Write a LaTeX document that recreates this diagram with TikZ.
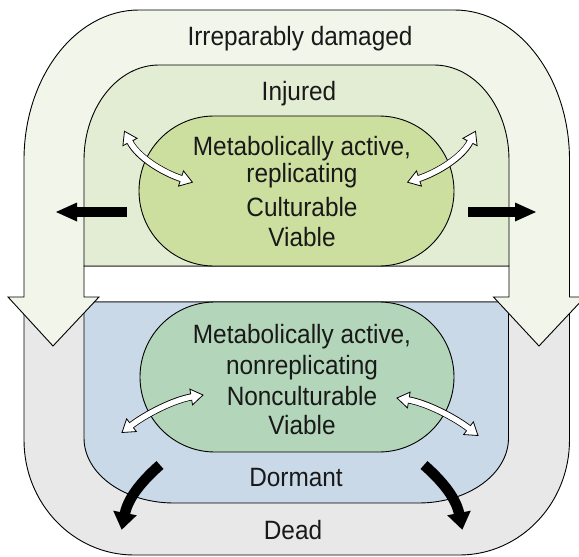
\documentclass[tikz,border=0pt]{standalone}
\usepackage{fontspec}
\setmainfont{Liberation Sans}[FakeStretch=0.92]
\usetikzlibrary{calc}
\definecolor{outerc}{HTML}{F1F5EA}
\definecolor{injc}{HTML}{E2EDD3}
\definecolor{pillup}{HTML}{CDDF9F}
\definecolor{dormc}{HTML}{C9D9E8}
\definecolor{pilllow}{HTML}{B3D5B9}
\definecolor{deadc}{HTML}{E8E8E8}
\newcommand{\whitearrow}[6]{%
  \draw[line width=7pt, black] (#2) .. controls (#3) and (#4) .. (#5);
  \filldraw[fill=white, draw=black, line width=0.8pt] (#1) -- ($(#2)!8pt!90:(#1)$) -- ($(#2)!8pt!-90:(#1)$) -- cycle;
  \filldraw[fill=white, draw=black, line width=0.8pt] (#6) -- ($(#5)!8pt!90:(#6)$) -- ($(#5)!8pt!-90:(#6)$) -- cycle;
  \draw[line width=5.4pt, white, shorten <=-1.2pt, shorten >=-1.2pt] (#2) .. controls (#3) and (#4) .. (#5);
}
\newcommand{\blackcurve}[5]{%
  \draw[line width=10.5pt, black, shorten >=-1pt] (#1) .. controls (#2) and (#3) .. (#4);
  \fill[black] (#5) -- ($(#4)!12pt!90:(#5)$) -- ($(#4)!12pt!-90:(#5)$) -- cycle;
}
\begin{document}
\begin{tikzpicture}[x=1pt,y=-1pt,
  region/.style={draw=black, line width=0.9pt},
  lbl/.style={font=\fontsize{26.5}{30}\selectfont, inner sep=0pt, anchor=base, text=black!90}]
\useasboundingbox (0,0) rectangle (579,557);
\fill[white] (0,0) rectangle (579,557);
\clip (0,0) rectangle (579,557);
% Dead
\draw[region, fill=deadc] (24,302) -- (24,440) .. controls (24,503.5) and (73.25,555) .. (134,555) -- (459.5,555) .. controls (520.25,555) and (569.5,503.5) .. (569.5,440) -- (569.5,302) -- cycle;
% Dormant
\draw[region, fill=dormc] (84,302) -- (84,438) .. controls (84,473.9) and (124.3,503) .. (174,503) -- (418.5,503) .. controls (468.2,503) and (508.5,473.9) .. (508.5,438) -- (508.5,302) -- cycle;
% lower pill
\draw[region, fill=pilllow] (215,302) -- (379,302) .. controls (420.4,302) and (454,335.6) .. (454,377) .. controls (454,418.4) and (420.4,452) .. (379,452) -- (215,452) .. controls (173.6,452) and (140,418.4) .. (140,377) .. controls (140,335.6) and (173.6,302) .. (215,302) -- cycle;
% Irreparably damaged arch with arrow heads
\draw[region, fill=outerc] (24,297) -- (24,160) .. controls (24,77.2) and (75.5,10) .. (139,10) -- (454.5,10) .. controls (518,10) and (569.5,77.2) .. (569.5,160) -- (569.5,297) -- (585,297) -- (539,346) -- (493.5,297) -- (509,297) -- (509,266) -- (84,266) -- (84,297) -- (99,297) -- (53,346) -- (8,297) -- cycle;
% Injured
\draw[region, fill=injc] (84,266) -- (84,160) .. controls (84,107.5) and (117.6,65) .. (159,65) -- (434,65) .. controls (475.4,65) and (509,107.5) .. (509,160) -- (509,266) -- cycle;
% upper pill
\draw[region, fill=pillup] (214,116) -- (379,116) .. controls (420.4,116) and (454,149.6) .. (454,191) .. controls (454,232.4) and (420.4,266) .. (379,266) -- (214,266) .. controls (172.6,266) and (139,232.4) .. (139,191) .. controls (139,149.6) and (172.6,116) .. (214,116) -- cycle;
% texts
\node[lbl] (irr) at (300,45) {Irreparably damaged};
\node[lbl] (inj) at (299,100) {Injured};
\node[lbl] (ma1) at (302,155) {Metabolically active,};
\node[lbl] (rep) at (302,182.5) {replicating};
\node[lbl] (cul) at (302,216) {Culturable};
\node[lbl] (via1) at (302,246) {Viable};
\node[lbl] (ma2) at (302,343.3) {Metabolically active,};
\node[lbl] (nrep) at (302,374) {nonreplicating};
\node[lbl] (ncul) at (302,405) {Nonculturable};
\node[lbl] (via2) at (302,434.3) {Viable};
\node[lbl] (dor) at (296,486) {Dormant};
\node[lbl] (dead) at (293,539.3) {Dead};
% white double arrows
\coordinate (ulT1) at (124.5,131.3); \coordinate (ulB1) at (130,142);
\coordinate (ulC1) at (138.3,158); \coordinate (ulC2) at (163.9,172.9);
\coordinate (ulB2) at (181,178.5); \coordinate (ulT2) at (192.4,182.2);
\whitearrow{ulT1}{ulB1}{ulC1}{ulC2}{ulB2}{ulT2}
\coordinate (urT1) at (475.5,131.3); \coordinate (urB1) at (470,142);
\coordinate (urC1) at (461.7,158); \coordinate (urC2) at (436.1,172.9);
\coordinate (urB2) at (419,178.5); \coordinate (urT2) at (407.6,182.2);
\whitearrow{urT1}{urB1}{urC1}{urC2}{urB2}{urT2}
\coordinate (llT1) at (122,432.5); \coordinate (llB1) at (131.5,425.2);
\coordinate (llC1) at (145.7,414.2); \coordinate (llC2) at (173.5,400);
\coordinate (llB2) at (191.2,397); \coordinate (llT2) at (203,395);
\whitearrow{llT1}{llB1}{llC1}{llC2}{llB2}{llT2}
\coordinate (lrT1) at (478,435.5); \coordinate (lrB1) at (468.5,428.2);
\coordinate (lrC1) at (454.3,417.2); \coordinate (lrC2) at (426.5,403);
\coordinate (lrB2) at (408.8,400); \coordinate (lrT2) at (397,398);
\whitearrow{lrT1}{lrB1}{lrC1}{lrC2}{lrB2}{lrT2}
% black horizontal arrows
\coordinate (hlA) at (127,212); \coordinate (hlB) at (77,212); \coordinate (hlT) at (56,212);
\draw[line width=9.5pt, shorten >=-1pt] (hlA) -- (hlB);
\fill (hlT) -- ($(hlB)!9.5pt!90:(hlT)$) -- ($(hlB)!9.5pt!-90:(hlT)$) -- cycle;
\coordinate (hrA) at (468,212); \coordinate (hrB) at (515,212); \coordinate (hrT) at (536,212);
\draw[line width=9.5pt, shorten >=-1pt] (hrA) -- (hrB);
\fill (hrT) -- ($(hrB)!9.5pt!90:(hrT)$) -- ($(hrB)!9.5pt!-90:(hrT)$) -- cycle;
% black curved arrows
\coordinate (bllA) at (160,465); \coordinate (bllC1) at (146.5,476.9);
\coordinate (bllC2) at (128.4,495.4); \coordinate (bllB) at (125,513); \coordinate (bllT) at (121.7,529.7);
\blackcurve{bllA}{bllC1}{bllC2}{bllB}{bllT}
\coordinate (blrA) at (424,465); \coordinate (blrC1) at (437.5,476.9);
\coordinate (blrC2) at (455.6,495.4); \coordinate (blrB) at (459,513); \coordinate (blrT) at (462.3,529.7);
\blackcurve{blrA}{blrC1}{blrC2}{blrB}{blrT}
\end{tikzpicture}
\end{document}
